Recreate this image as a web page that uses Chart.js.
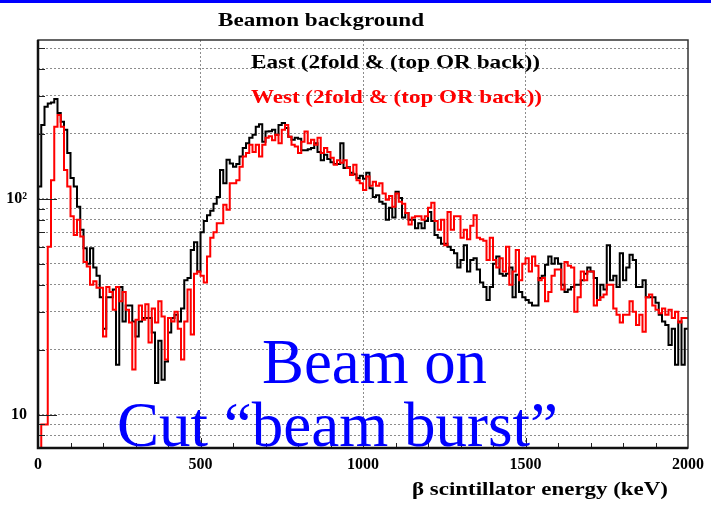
<!DOCTYPE html>
<html>
<head>
<meta charset="utf-8">
<script src="https://cdn.jsdelivr.net/npm/chart.js@4.4.0/dist/chart.umd.min.js"></script>
<style>
  html, body { margin: 0; padding: 0; background: #fff; }
  canvas { display: block; }
</style>
</head>
<body>
<canvas id="chart-hist" width="711" height="508"></canvas>
<script>
// histogram bins: 0..2000 keV, 10 keV wide
const binWidth = 10;

const eastCounts = [
  114, 220, 267, 277, 280, 290, 250, 228, 209, 163,
  125, 114, 92, 72, 59, 50, 59, 48, 44, 35,
  25, 35, 35, 38, 17, 39, 27, 32, 32, 27,
  23, 27, 28, 28, 28, 24, 14, 22, 14.5, 17.6,
  24, 28, 29, 27, 31, 42, 43, 58, 63, 46,
  70, 79, 84, 88, 95, 102, 136, 118, 152, 146,
  141, 145, 157, 172, 181, 192, 198, 216, 222, 184,
  205, 206, 209, 198, 220, 225, 213, 194, 188, 192,
  190, 168, 168, 170, 172, 181, 165, 151, 160, 153,
  148, 145, 145, 181, 139, 140, 132, 130, 125, 128,
  124, 132, 112, 102, 104, 97, 95, 80, 91, 82,
  108, 101, 82, 86, 80, 80, 73, 77, 73, 79,
  87, 79, 68, 66, 62, 62, 60, 58, 56, 48,
  52, 61, 46, 52, 53, 47, 41, 39, 34, 39,
  50, 54, 45, 44, 45, 48, 35, 44.5, 37, 35,
  34, 33, 32, 32, 43, 44, 49.5, 54, 50, 53,
  50, 40, 37, 38, 39, 40, 40, 42, 45, 48,
  46, 43, 34, 40, 38, 61, 42, 44, 39, 56,
  42, 48, 55, 52, 39, 39, 42, 35, 35, 35,
  33, 29, 27, 26, 21, 25, 17, 27, 17, 25
];

const westCounts = [
  5, 9, 9, 60, 122, 216, 245, 216, 136, 114,
  83, 68, 80, 67, 51, 48.6, 40, 41.5, 38.7, 38.7,
  23, 39, 37, 30.6, 39, 33.5, 37, 30.6, 26.7, 16.2,
  27.5, 32, 27.5, 32.5, 21.6, 31, 26.7, 33.5, 28.5, 18,
  28, 27, 30, 25, 18, 27, 38, 23.5, 45, 46,
  44, 41, 54, 66, 70, 77, 77, 94, 89, 118,
  118, 122, 141, 157, 163, 178, 165, 178, 157, 178,
  192, 195, 187, 198, 181, 209, 220, 194, 178, 175,
  163, 184, 205, 181, 188, 178, 192, 163, 172, 165,
  155, 144, 151, 147, 151, 139, 129, 144, 122, 118,
  110, 127, 115, 120, 115, 118, 106, 99, 103, 92,
  106, 97, 95, 86, 76, 82, 83, 83, 80, 83,
  91, 96, 79, 72, 80, 61, 87, 72, 83, 83,
  66, 72, 65, 75, 84, 66, 65, 64, 52, 66,
  52, 48, 53, 46, 60, 40, 46, 58, 42, 50,
  53, 46, 54, 49, 42, 43, 33.5, 37, 44, 47,
  47, 38, 51, 49, 48, 30, 35, 46, 42, 46,
  46, 32, 34, 35, 36, 40, 40, 31, 29, 26.7,
  29, 29, 33.5, 30, 26, 29, 24.2, 35, 36, 32,
  30.6, 29.5, 31, 29, 30.6, 28, 30, 26.7, 28, 28
];

const xLabelValues = [0, 500, 1000, 1500, 2000];
const xGridValues = [500, 1000, 1500];
const yGridValues = [8, 9, 10, 20, 30, 40, 50, 60, 70, 80, 90, 100, 200, 300, 400, 500];
const yLabelValues = [10, 100];
const yLabelTexts = ['10', '10²'];

const titleText = 'Beamon background';
const legendTexts = ['East (2fold & (top OR back))', 'West (2fold & (top OR back))'];
const xTitleText = 'β scintillator energy (keV)';
const noteLines = ['Beam on', 'Cut “beam burst”'];

const serif = '"Liberation Serif", "Times New Roman", serif';

// bin centres, plus the two outer edges, drawn as steps
function histPoints(counts) {
  const pts = [{ x: 0, y: counts[0] }];
  counts.forEach((c, i) => pts.push({ x: (i + 0.5) * binWidth, y: c }));
  pts.push({ x: counts.length * binWidth, y: counts[counts.length - 1] });
  return pts;
}

function fitText(ctx, text, left, baseline, font, color, width) {
  ctx.save();
  ctx.font = font;
  const w = ctx.measureText(text).width;
  ctx.translate(left, baseline);
  ctx.scale(width / w, 1);
  ctx.fillStyle = color;
  ctx.textAlign = 'left';
  ctx.textBaseline = 'alphabetic';
  ctx.fillText(text, 0, 0);
  ctx.restore();
}

const rootStyle = {
  id: 'rootStyle',
  afterDatasetsDraw(chart) {
    const { ctx, chartArea: a, scales } = chart;
    ctx.save();
    ctx.strokeStyle = '#222';
    // inward tick marks
    ctx.lineWidth = 1;
    ctx.beginPath();
    yGridValues.forEach(v => {
      const y = Math.round(scales.y.getPixelForValue(v)) + 0.5;
      const len = yLabelValues.includes(v) ? 19 : 7;
      ctx.moveTo(a.left, y);
      ctx.lineTo(a.left + len, y);
    });
    for (let v = 100; v < 2000; v += 100) {
      const x = Math.round(scales.x.getPixelForValue(v)) + 0.5;
      const len = v % 500 === 0 ? 10 : 5;
      ctx.moveTo(x, a.bottom);
      ctx.lineTo(x, a.bottom - len);
    }
    ctx.stroke();
    // frame
    ctx.lineWidth = 1.5;
    ctx.strokeStyle = '#333';
    ctx.strokeRect(a.left, a.top, a.right - a.left, a.bottom - a.top);
    ctx.lineWidth = 2.5;
    ctx.strokeStyle = '#111';
    ctx.beginPath();
    ctx.moveTo(a.left, a.top);
    ctx.lineTo(a.left, a.bottom);
    ctx.lineTo(a.right, a.bottom);
    ctx.stroke();
    ctx.restore();
  },
  afterDraw(chart) {
    const ctx = chart.ctx;
    ctx.save();
    ctx.fillStyle = '#0000ff';
    ctx.fillRect(0, 0, chart.width, 3);
    ctx.restore();

    fitText(ctx, titleText, 218, 26, 'bold 19px ' + serif, '#000', 206);
    fitText(ctx, legendTexts[0], 251, 68, 'bold 19px ' + serif, '#000', 289);
    fitText(ctx, legendTexts[1], 251, 103, 'bold 19px ' + serif, '#ff0000', 291);
    fitText(ctx, xTitleText, 412, 495, 'bold 18px ' + serif, '#000', 256);
    fitText(ctx, noteLines[0], 262, 383, '63px ' + serif, '#0000ff', 225);
    fitText(ctx, noteLines[1], 117, 446, '63px ' + serif, '#0000ff', 441);
  }
};

const canvas = document.getElementById('chart-hist');
const ctx = canvas.getContext('2d');

new Chart(ctx, {
  type: 'line',
  data: {
    datasets: [{
      label: 'West',
      data: histPoints(westCounts),
      borderColor: '#ff0000',
      borderWidth: 2,
      stepped: 'middle',
      pointRadius: 0,
      fill: false,
      order: 1
    }, {
      label: 'East',
      data: histPoints(eastCounts),
      borderColor: '#000000',
      borderWidth: 2,
      stepped: 'middle',
      pointRadius: 0,
      fill: false,
      order: 2
    }]
  },
  options: {
    responsive: false,
    animation: false,
    events: [],
    layout: { padding: { top: 40, right: 21, left: 0, bottom: 0 } },
    plugins: {
      legend: { display: false },
      tooltip: { enabled: false }
    },
    scales: {
      x: {
        type: 'linear',
        min: 0,
        max: 2000,
        afterBuildTicks: scale => {
          const t = [];
          for (let v = 0; v <= 2000; v += 100) t.push({ value: v });
          scale.ticks = t;
        },
        afterFit: scale => { scale.height = 60; },
        grid: {
          drawTicks: false,
          lineWidth: 1,
          color: c => (c.tick && xGridValues.includes(c.tick.value)) ? '#8c8c8c' : 'rgba(0,0,0,0)'
        },
        border: { display: false, dash: [2, 2] },
        ticks: {
          autoSkip: false,
          maxRotation: 0,
          padding: 7,
          color: '#000',
          font: { family: serif, size: 16, weight: 'bold' },
          callback: v => xLabelValues.includes(v) ? String(v) : ''
        }
      },
      y: {
        type: 'logarithmic',
        min: 7,
        max: 545,
        afterBuildTicks: scale => {
          scale.ticks = yGridValues.map(v => ({ value: v }));
        },
        afterFit: scale => { scale.width = 38; },
        grid: { drawTicks: false, lineWidth: 1, color: '#8c8c8c' },
        border: { display: false, dash: [2, 2] },
        ticks: {
          padding: 11,
          color: '#000',
          font: { family: serif, size: 16, weight: 'bold' },
          callback: v => {
            const i = yLabelValues.indexOf(v);
            return i >= 0 ? yLabelTexts[i] : '';
          }
        }
      }
    }
  },
  plugins: [rootStyle]
});
</script>
</body>
</html>
